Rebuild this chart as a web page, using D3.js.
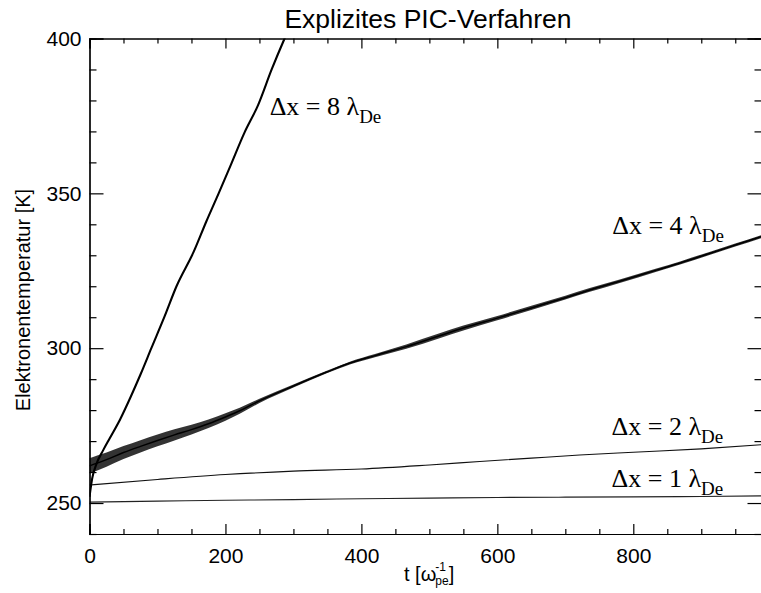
<!DOCTYPE html>
<html>
<head>
<meta charset="utf-8">
<script src="https://cdn.jsdelivr.net/npm/d3@7"></script>
<style>
html,body{margin:0;padding:0;background:#fff;}
svg{display:block;}
</style>
</head>
<body>
<svg id="chart" width="761" height="593"></svg>
<script>
// ---- data ----
const title = "Explizites PIC-Verfahren";
const yLabel = "Elektronentemperatur [K]";
const xMajorTicks = [0, 200, 400, 600, 800];
const yMajorTicks = [250, 300, 350, 400];

const t1 = [0, 100, 200, 300, 400, 500, 600, 700, 800, 900, 988];
const v1 = [250.3, 250.6, 250.9, 251.1, 251.4, 251.6, 251.8, 251.9, 252.0, 252.1, 252.3];

const t2 = [0, 100, 200, 300, 400, 500, 574, 650, 721, 800, 900, 988];
const v2 = [255.8, 257.6, 259.2, 260.3, 261.0, 262.3, 263.4, 264.5, 265.5, 266.4, 267.5, 268.8];

const t4 = [0, 25, 50, 75, 100, 125, 150, 175, 200, 221, 250, 300, 349, 383, 420, 466, 515, 550, 600, 650, 700, 736, 780, 834, 870, 912, 950, 988];
const v4 = [262, 264, 266.3, 268.3, 270.2, 272, 273.7, 275.6, 277.8, 279.8, 283.0, 287.8, 292.3, 295.2, 297.6, 300.5, 304.0, 306.5, 309.7, 313, 316.3, 318.8, 321.6, 325.2, 327.6, 330.6, 333.3, 336];
const amp4 = [2.5, 2.3, 2.1, 2.0, 1.9, 1.8, 1.6, 1.4, 1.2, 1.0, 0.7, 0.5, 0.4, 0.45, 0.5, 0.7, 0.8, 0.8, 0.7, 0.7, 0.6, 0.6, 0.55, 0.5, 0.5, 0.5, 0.5, 0.5];

const t8 = [0, 4, 10, 20, 30, 45, 60, 75, 91, 110, 128, 153, 172, 190, 207, 228, 248, 268, 287, 295];
const v8 = [252, 258, 262.5, 267, 271, 277, 284, 291.5, 300, 310, 320, 331, 341, 350, 358.7, 369.6, 378.5, 390, 400, 404];

const labels = [
  {num: "8", t: 265, v: 375.4},
  {num: "4", t: 769, v: 337.0},
  {num: "2", t: 768, v: 272},
  {num: "1", t: 768, v: 255.2}
];

// ---- layout ----
const svg = d3.select("#chart");
const mLeft = 89.5, mRight = 761.5, mTop = 38.5, mBottom = 534;
const x = d3.scaleLinear().domain([0, 988.6]).range([mLeft, mRight]);
const y = d3.scaleLinear().domain([240, 400]).range([mBottom, mTop]);

const sans = "'Liberation Sans', Arial, Helvetica, sans-serif";
const serif = "'Liberation Serif', 'Times New Roman', Times, serif";

svg.append("defs").append("clipPath").attr("id", "clip")
  .append("rect").attr("x", mLeft).attr("y", mTop).attr("width", mRight - mLeft).attr("height", mBottom - mTop);

const g = svg.append("g").attr("clip-path", "url(#clip)");

const zip = (ts, vs) => ts.map((t, i) => ({t, v: vs[i]}));
const line = d3.line().curve(d3.curveMonotoneX).x(d => x(d.t)).y(d => y(d.v));

// delta x = 1 and 2
g.append("path").datum(zip(t1, v1)).attr("d", line)
  .attr("fill", "none").attr("stroke", "#222").attr("stroke-width", 1.1);
g.append("path").datum(zip(t2, v2)).attr("d", line)
  .attr("fill", "none").attr("stroke", "#111").attr("stroke-width", 1.1);

// delta x = 4 (oscillation envelope + centre line)
const band4 = t4.map((t, i) => ({t, lo: v4[i] - amp4[i], hi: v4[i] + amp4[i]}));
g.append("path").datum(band4)
  .attr("d", d3.area().curve(d3.curveMonotoneX).x(d => x(d.t)).y0(d => y(d.lo)).y1(d => y(d.hi)))
  .attr("fill", "#000").attr("fill-opacity", 0.8);
g.append("path").datum(zip(t4, v4)).attr("d", line)
  .attr("fill", "none").attr("stroke", "#000").attr("stroke-width", 1.5);

// delta x = 8
g.append("path").datum(zip(t8, v8)).attr("d", line)
  .attr("fill", "none").attr("stroke", "#000").attr("stroke-width", 2.1);

// ---- axes ----
const xMinor = d3.range(0, 989, 50).filter(d => !xMajorTicks.includes(d));
const yMinor = d3.range(240, 401, 10).filter(d => !yMajorTicks.includes(d));

function styleAxis(sel) {
  sel.selectAll("path.domain").attr("stroke", "#000").attr("stroke-width", 1.2);
  sel.selectAll(".tick line").attr("stroke", "#000").attr("stroke-width", 1.2);
  sel.selectAll("text").attr("fill", "#000").style("font-family", sans).style("font-size", "21px");
}

svg.append("g").attr("transform", `translate(0,${mBottom})`)
  .call(d3.axisBottom(x).tickValues(xMajorTicks).tickSize(-10).tickPadding(14).tickFormat(d3.format("d")))
  .call(styleAxis);
svg.append("g").attr("transform", `translate(0,${mBottom})`)
  .call(d3.axisBottom(x).tickValues(xMinor).tickSize(-5).tickFormat(""))
  .call(styleAxis);
svg.append("g").attr("transform", `translate(0,${mTop})`)
  .call(d3.axisTop(x).tickValues(xMajorTicks).tickSize(-10).tickFormat(""))
  .call(styleAxis);
svg.append("g").attr("transform", `translate(0,${mTop})`)
  .call(d3.axisTop(x).tickValues(xMinor).tickSize(-5).tickFormat(""))
  .call(styleAxis);

svg.append("g").attr("transform", `translate(${mLeft},0)`)
  .call(d3.axisLeft(y).tickValues(yMajorTicks).tickSize(-14).tickPadding(8).tickFormat(d3.format("d")))
  .call(styleAxis);
svg.append("g").attr("transform", `translate(${mLeft},0)`)
  .call(d3.axisLeft(y).tickValues(yMinor).tickSize(-7).tickFormat(""))
  .call(styleAxis);
svg.append("g").attr("transform", `translate(${mRight},0)`)
  .call(d3.axisRight(y).tickValues(yMajorTicks).tickSize(-14).tickFormat(""))
  .call(styleAxis);
svg.append("g").attr("transform", `translate(${mRight},0)`)
  .call(d3.axisRight(y).tickValues(yMinor).tickSize(-7).tickFormat(""))
  .call(styleAxis);

// ---- titles ----
svg.append("text").attr("x", 428).attr("y", 28).attr("text-anchor", "middle")
  .style("font-family", sans).style("font-size", "26.5px").text(title);

svg.append("text").attr("transform", "translate(30,300) rotate(-90)")
  .attr("text-anchor", "middle")
  .style("font-family", sans).style("font-size", "20px").text(yLabel);

// x label: t [ω_pe^-1]
const xl = svg.append("g").style("font-family", sans);
const xlMain = xl.append("text").attr("x", 404).attr("y", 581).style("font-size", "20px").text("t [ω");
const wMain = xlMain.node().getComputedTextLength();
const supT = xl.append("text").attr("x", 404 + wMain - 1).attr("y", 571).style("font-size", "12px").text("-1");
const subT = xl.append("text").attr("x", 404 + wMain - 1).attr("y", 585).style("font-size", "12px").text("pe");
const wScript = Math.max(supT.node().getComputedTextLength(), subT.node().getComputedTextLength());
xl.append("text").attr("x", 404 + wMain - 1 + wScript).attr("y", 581).style("font-size", "20px").text("]");

// ---- curve labels ----
labels.forEach(l => {
  const tx = svg.append("text").attr("x", x(l.t)).attr("y", y(l.v))
    .style("font-family", serif).style("font-size", "26px").attr("fill", "#000");
  tx.append("tspan").text(`Δx = ${l.num} λ`);
  tx.append("tspan").attr("dy", 8).style("font-size", "19px").text("De");
});
</script>
</body>
</html>
